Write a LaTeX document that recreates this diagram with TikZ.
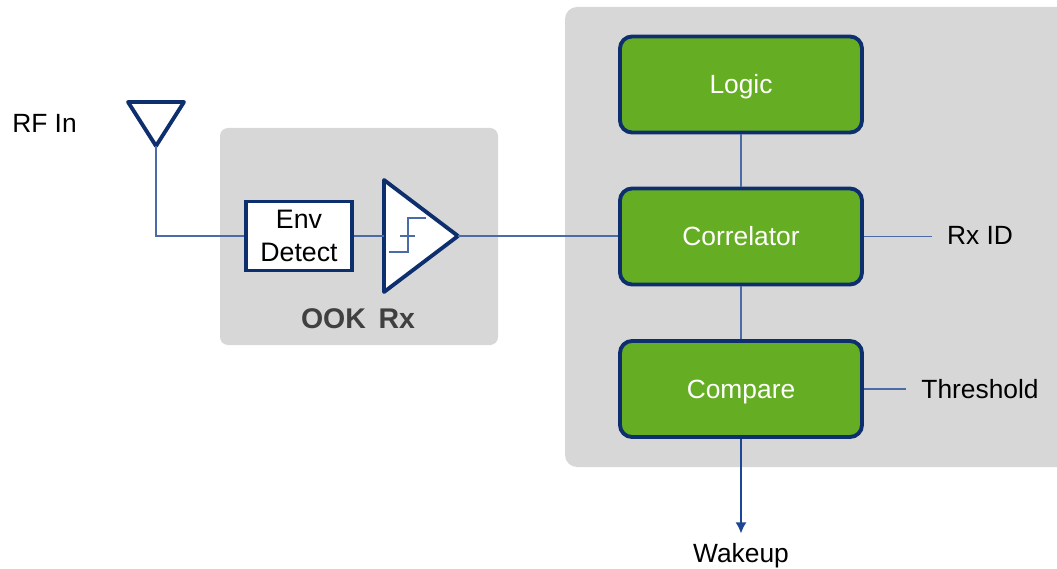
\documentclass[tikz,border=0pt]{standalone}
\usepackage{fontspec}
\setmainfont{Liberation Sans}
\definecolor{panelgrey}{RGB}{215,215,215}
\definecolor{blockgreen}{RGB}{101,174,36}
\definecolor{framenavy}{RGB}{14,47,110}
\definecolor{wireblue}{RGB}{75,107,168}
\definecolor{arrowblue}{RGB}{30,70,150}
\definecolor{labelgrey}{RGB}{64,64,64}
\usetikzlibrary{arrows.meta}
\usetikzlibrary{shapes.geometric}
\tikzset{
  every node/.style={font=\fontsize{15}{18}\selectfont},
  wire/.style={wireblue, line width=0.85pt},
  block/.style={draw=framenavy, line width=2.2pt, fill=blockgreen, text=white, rounded corners=0.24cm, minimum width=4.84cm, minimum height=1.92cm, inner sep=0pt, text height=0.46cm, text depth=0.1cm},
  tri/.style={draw=framenavy, line width=2.2pt, fill=white, isosceles triangle, isosceles triangle stretches, inner sep=0pt, outer sep=0pt, line join=round},
  sidelabel/.style={inner xsep=0.3cm, inner ysep=0.1cm}
}

\begin{document}
\begin{tikzpicture}
  \useasboundingbox (0,0) rectangle (21.14,-11.38);

  % grey panels
  \fill [panelgrey] (21.14,-9.34) [rounded corners=0.24cm] -- (11.3,-9.34) -- (11.3,-0.14) [sharp corners] -- (21.14,-0.14) -- cycle;
  \node [fill=panelgrey, rounded corners=0.16cm, minimum width=5.56cm, minimum height=4.34cm] (ookpanel) at (7.18,-4.73) {};

  % receiver chain
  \node [tri, shape border rotate=270, minimum width=1.12cm, minimum height=0.88cm, anchor=apex] (ant) at (3.12,-2.92) {};
  \node [draw=framenavy, line width=2.2pt, fill=white, align=center, minimum width=2.12cm, minimum height=1.38cm, inner sep=0pt, font=\fontsize{15.2}{18.7}\selectfont] (env) at (5.98,-4.72) {Env\\ Detect};
  \node [tri, minimum width=2.24cm, minimum height=1.48cm, anchor=apex] (amp) at (9.16,-4.72) {};

  % correlator blocks
  \node [block] (logic) at (14.82,-1.69) {Logic};
  \node [block] (corr) at (14.82,-4.73) {Correlator};
  \node [block] (compare) at (14.82,-7.78) {Compare};

  % texts
  \node (rfin) at (0.89,-2.46) {RF In};
  \node [font=\fontsize{16.2}{19}\bfseries, text=labelgrey] (ook) at (7.16,-6.38) {OOK\, Rx};
  \node [sidelabel] (rxid) at (19.6,-4.7) {Rx ID};
  \node [sidelabel] (thresh) at (19.6,-7.78) {Threshold};
  \node [inner ysep=0.2cm] (wakeup) at (14.82,-11.12) {Wakeup};

  % wires
  \draw [wire] (ant.apex) |- (env.west);
  \draw [wire] (env.east) -- (env.east -| amp.lower side);
  \draw [wire] (amp.apex) -- (amp.apex -| corr.west);
  \draw [wire] (logic) -- (corr);
  \draw [wire] (corr) -- (compare);
  \draw [wire] (corr.east) -- (corr.east -| rxid.west);
  \draw [wire] (compare.east) -- (thresh.west);
  \draw [arrowblue, line width=0.85pt, -{Latex[length=0.22cm, width=0.22cm]}] (compare) -- (wakeup);

  % threshold step inside amp
  \draw [wire] (7.78,-5.04) -- (8.16,-5.04) -- (8.16,-4.36) -- (8.52,-4.36);
  \draw [wire] (8.0,-4.72) -- (8.3,-4.72);
\end{tikzpicture}
\end{document}
